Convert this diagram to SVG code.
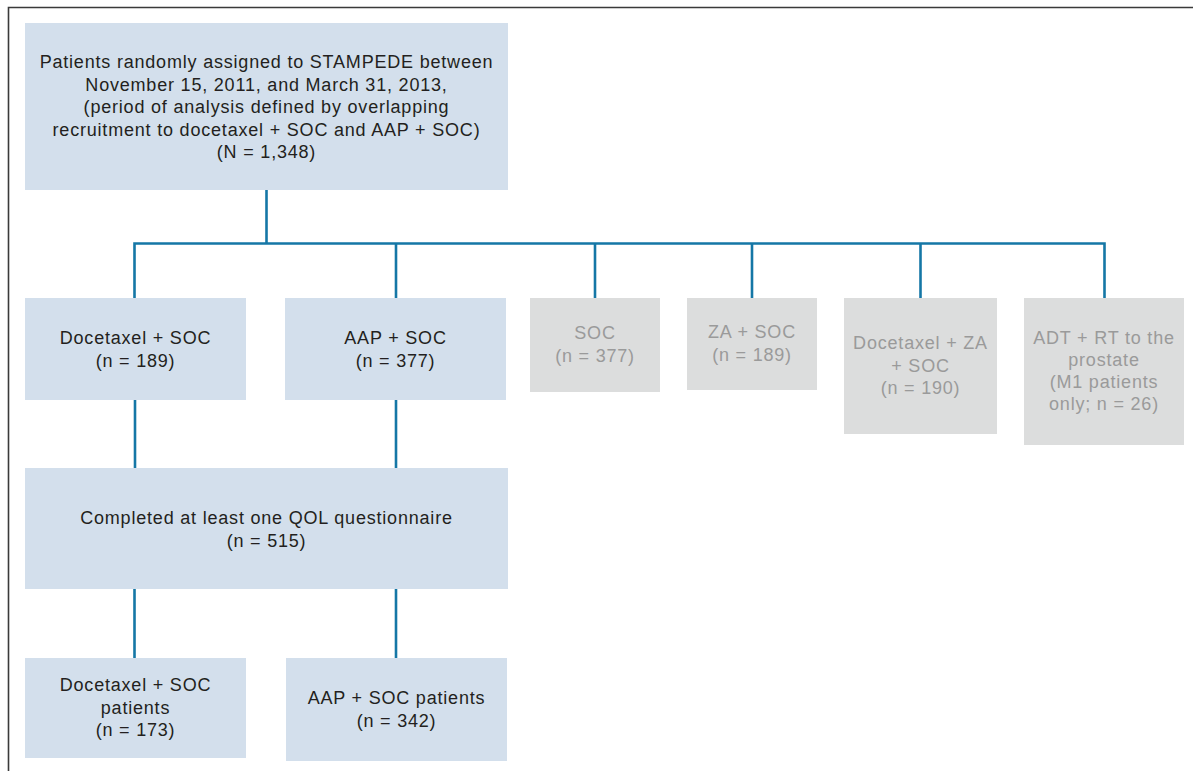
<svg xmlns="http://www.w3.org/2000/svg" width="1193" height="771" viewBox="0 0 1193 771">
<style>
.bg{fill:#ffffff}
.frame{fill:none;stroke:#3a3a3a;stroke-width:1.6}
.blue{fill:#d3dfec}
.gray{fill:#dcdddd}
.conn{fill:none;stroke:#1577a6;stroke-width:2.6}
text{font-family:"Liberation Sans",Arial,sans-serif;font-size:18px;letter-spacing:0.8px;text-anchor:middle}
.t{fill:#231f20}
.g{fill:#9a9a9a}
</style>
<rect class="bg" x="0" y="0" width="1193" height="771"/>
<path class="frame" d="M8.5,771 V7.5 H1193"/>
<g id="connectors">
<path class="conn" d="M266.5,190 V243.5"/>
<path class="conn" d="M134.5,298 V243.5 H1104.5 V298"/>
<path class="conn" d="M396,243.5 V298"/>
<path class="conn" d="M595,243.5 V298"/>
<path class="conn" d="M752,243.5 V298"/>
<path class="conn" d="M920.5,243.5 V298"/>
<path class="conn" d="M135,400 V468"/>
<path class="conn" d="M396,400 V468"/>
<path class="conn" d="M134.5,589 V658"/>
<path class="conn" d="M396,589 V658"/>
</g>
<g id="n_randomised">
<rect class="blue" x="25" y="23" width="483" height="167"/>
<text class="t" x="266.5" y="68">Patients randomly assigned to STAMPEDE between</text>
<text class="t" x="266.5" y="90.5">November 15, 2011, and March 31, 2013,</text>
<text class="t" x="266.5" y="113">(period of analysis defined by overlapping</text>
<text class="t" x="266.5" y="135.5">recruitment to docetaxel + SOC and AAP + SOC)</text>
<text class="t" x="266.5" y="158">(N = 1,348)</text>
</g>
<g id="n_doc">
<rect class="blue" x="25" y="298" width="221" height="102"/>
<text class="t" x="135.5" y="344">Docetaxel + SOC</text>
<text class="t" x="135.5" y="367">(n = 189)</text>
</g>
<g id="n_aap">
<rect class="blue" x="285" y="298" width="221" height="102"/>
<text class="t" x="395.5" y="344">AAP + SOC</text>
<text class="t" x="395.5" y="367">(n = 377)</text>
</g>
<g id="n_soc">
<rect class="gray" x="530" y="298" width="130" height="94"/>
<text class="g" x="595" y="339">SOC</text>
<text class="g" x="595" y="362">(n = 377)</text>
</g>
<g id="n_za">
<rect class="gray" x="687" y="298" width="130" height="92"/>
<text class="g" x="752" y="338">ZA + SOC</text>
<text class="g" x="752" y="361">(n = 189)</text>
</g>
<g id="n_docza">
<rect class="gray" x="844" y="298" width="153" height="136"/>
<text class="g" x="920.5" y="349">Docetaxel + ZA</text>
<text class="g" x="920.5" y="372">+ SOC</text>
<text class="g" x="920.5" y="394">(n = 190)</text>
</g>
<g id="n_adt">
<rect class="gray" x="1024" y="298" width="160" height="147"/>
<text class="g" x="1104" y="344">ADT + RT to the</text>
<text class="g" x="1104" y="366">prostate</text>
<text class="g" x="1104" y="388">(M1 patients</text>
<text class="g" x="1104" y="410">only; n = 26)</text>
</g>
<g id="n_qol">
<rect class="blue" x="25" y="468" width="483" height="121"/>
<text class="t" x="266.5" y="524">Completed at least one QOL questionnaire</text>
<text class="t" x="266.5" y="547">(n = 515)</text>
</g>
<g id="n_doc_pts">
<rect class="blue" x="25" y="658" width="221" height="100"/>
<text class="t" x="135.5" y="691">Docetaxel + SOC</text>
<text class="t" x="135.5" y="713.5">patients</text>
<text class="t" x="135.5" y="736">(n = 173)</text>
</g>
<g id="n_aap_pts">
<rect class="blue" x="286" y="658" width="221" height="103"/>
<text class="t" x="396.5" y="704">AAP + SOC patients</text>
<text class="t" x="396.5" y="726.5">(n = 342)</text>
</g>
</svg>
